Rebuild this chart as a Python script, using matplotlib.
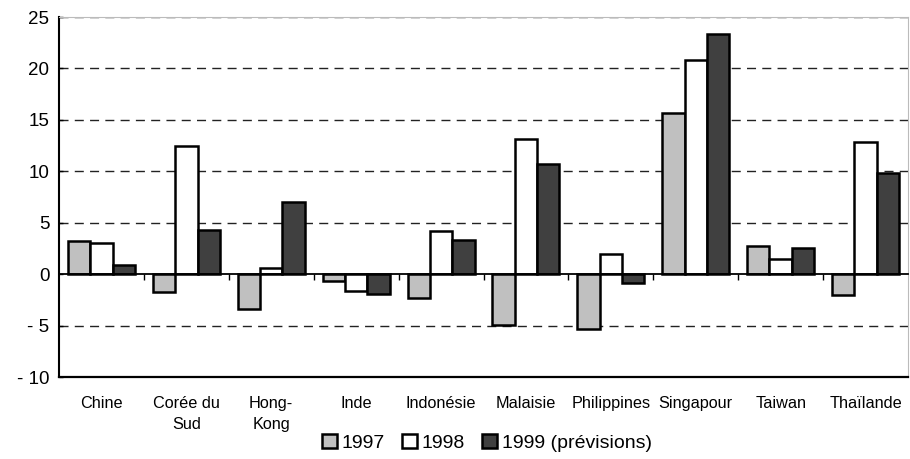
import matplotlib
matplotlib.use("Agg")
import matplotlib.pyplot as plt
import matplotlib.transforms as mtransforms
import numpy as np

plt.rcParams['font.family'] = ['Liberation Sans', 'DejaVu Sans']

pays = ["Chine", "Corée du\nSud", "Hong-\nKong", "Inde", "Indonésie", "Malaisie",
        "Philippines", "Singapour", "Taiwan", "Thaïlande"]
v1997 = [3.2, -1.7, -3.4, -0.7, -2.3, -4.9, -5.3, 15.7, 2.7, -2.0]
v1998 = [3.0, 12.5, 0.55, -1.6, 4.2, 13.1, 2.0, 20.8, 1.5, 12.8]
v1999 = [0.9, 4.3, 7.0, -1.9, 3.3, 10.7, -0.9, 23.3, 2.5, 9.8]
series = [("1997", v1997, "#c0c0c0"),
          ("1998", v1998, "#ffffff"),
          ("1999 (prévisions)", v1999, "#404040")]
yticks = [-10, -5, 0, 5, 10, 15, 20, 25]
ylabels = ["- 10", "- 5", "0", "5", "10", "15", "20", "25"]

fig = plt.figure(figsize=(9.10, 4.59), dpi=100)
ax = fig.add_axes([59 / 910, 1 - 377 / 459, 849 / 910, 360 / 459])

x = np.arange(len(pays))
w = 0.263
for i, (name, vals, col) in enumerate(series):
    ax.bar(x + (i - 1) * w, vals, w, color=col, edgecolor="black",
           linewidth=1.8, label=name, zorder=3)

ax.set_xlim(-0.5, len(pays) - 0.5)
ax.set_ylim(-10, 25)

# dashed gridlines
for t in [-5, 5, 10, 15, 20, 25]:
    ax.axhline(t, color="#222222", lw=1.0, dashes=(6.5, 4.5), zorder=1)
# bottom frame line
ax.axhline(-10, color="black", lw=1.6, zorder=4, clip_on=False)

ax.spines["bottom"].set_position(("data", 0))
ax.spines["bottom"].set_linewidth(1.3)
ax.spines["bottom"].set_zorder(4)
ax.spines["left"].set_linewidth(1.5)
ax.spines["top"].set_color("#bbbbbb")
ax.spines["top"].set_linewidth(0.8)
ax.spines["right"].set_color("#bbbbbb")
ax.spines["right"].set_linewidth(0.8)

ax.set_xticks(np.arange(0.5, len(pays) - 0.5, 1.0))
ax.set_xticklabels([])
ax.tick_params(axis="x", direction="out", length=4, width=1)

ax.set_yticks(yticks)
ax.set_yticklabels(ylabels, fontsize=13.5)
ax.tick_params(axis="y", direction="in", length=3, width=1, pad=7)

trans = mtransforms.blended_transform_factory(ax.transData, ax.transAxes)
for xi, name in zip(x, pays):
    ax.text(xi, -0.052, name, transform=trans, ha="center", va="top",
            fontsize=11.7, linespacing=1.55)

handles, labels = ax.get_legend_handles_labels()
fig.legend(handles, labels, loc="lower center", bbox_to_anchor=(0.535, -0.01),
           ncol=3, frameon=False, fontsize=14, handlelength=0.75,
           handleheight=0.75, handletextpad=0.25, columnspacing=0.9,
           borderaxespad=0.2)

fig.savefig("out.png", dpi=100)
